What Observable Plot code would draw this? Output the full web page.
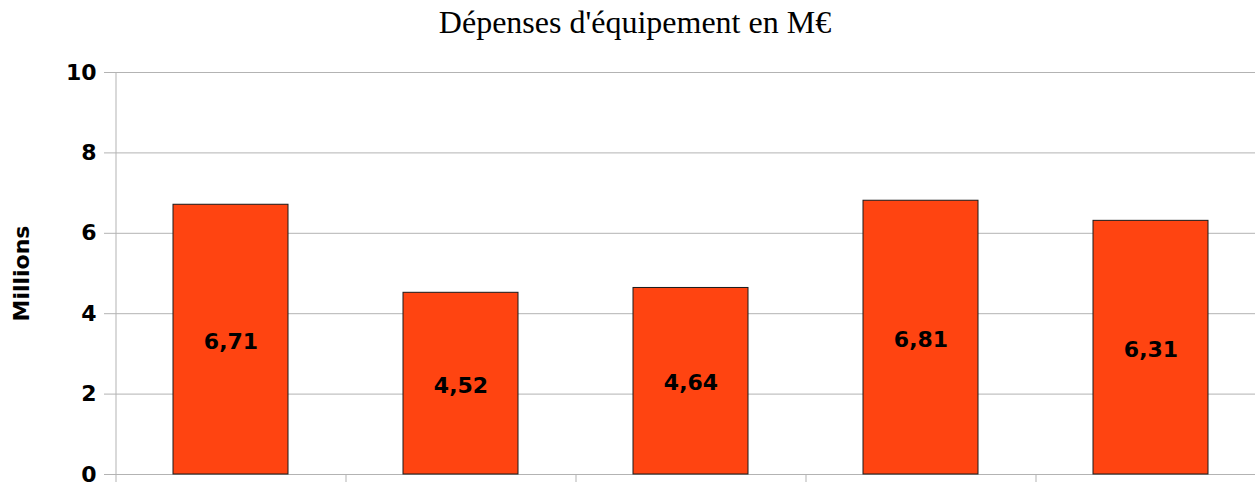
<!DOCTYPE html>
<html>
<head>
<meta charset="utf-8">
<script src="https://cdn.jsdelivr.net/npm/d3@7"></script>
<script src="https://cdn.jsdelivr.net/npm/@observablehq/plot@0.6"></script>
<style>
  body { margin: 0; background: #fff; overflow: hidden; }
  #wrap { position: relative; width: 1265px; }
  #title { position: absolute; left: 0; top: 0; width: 1270px; text-align: center;
           font-family: "Liberation Serif", serif; font-size: 32px; line-height: 1; padding-top: 6px; color: #000; }
  #chart { padding-top: 50px; }
</style>
</head>
<body>
<div id="wrap">
  <div id="title">Dépenses d'équipement en M€</div>
  <div id="chart"></div>
</div>
<script>
const categories = ["1", "2", "3", "4", "5"];
const values = [6.71, 4.52, 4.64, 6.81, 6.31];
const yTicks = [0, 2, 4, 6, 8, 10];
const yLabel = "Millions";

const data = categories.map((c, i) => ({ cat: c, value: values[i] }));
const fmt = v => v.toFixed(2).replace(".", ",");

const marginLeft = 115, plotWidth = 1150;
const step = plotWidth / categories.length;
const grid = "#b3b3b3";

const chart = Plot.plot({
  width: marginLeft + plotWidth,
  height: 464,
  marginLeft,
  marginRight: 0,
  marginTop: 22,
  marginBottom: 40,
  style: { fontFamily: "DejaVu Sans, sans-serif", fontWeight: "bold", color: "#000", background: "#fff" },
  x: { domain: categories, paddingInner: 0.5, paddingOuter: 0.25, axis: null },
  y: { domain: [0, 10], ticks: yTicks, label: null },
  marks: [
    Plot.gridY(yTicks, { stroke: grid, strokeOpacity: 1, strokeWidth: 1 }),
    Plot.ruleX([categories[0]], { y1: 0, y2: 10, dx: -step / 2, stroke: grid, strokeWidth: 1 }),
    Plot.ruleX(categories, { y1: 0, y2: -0.2, dx: -step / 2, stroke: grid, strokeWidth: 1, clip: false }),
    Plot.axisY(yTicks, { tickSize: 11, tickPadding: 8, fontSize: 22, fontWeight: "bold", stroke: grid, fill: "#000", label: null }),
    Plot.text([yLabel], { frameAnchor: "left", textAnchor: "middle", rotate: -90, dx: -94, fontSize: 22, fontWeight: "bold", fill: "#000", lineAnchor: "middle" }),
    Plot.barY(data, { x: "cat", y: "value", fill: "#ff4411", stroke: "#1a1a1a", strokeWidth: 1 }),
    Plot.text(data, { x: "cat", y: d => d.value / 2, text: d => fmt(d.value), fontSize: 22, fontWeight: "bold",
      fill: "#000", dy: 2 })
  ]
});
document.getElementById("chart").appendChild(chart);
</script>
</body>
</html>
